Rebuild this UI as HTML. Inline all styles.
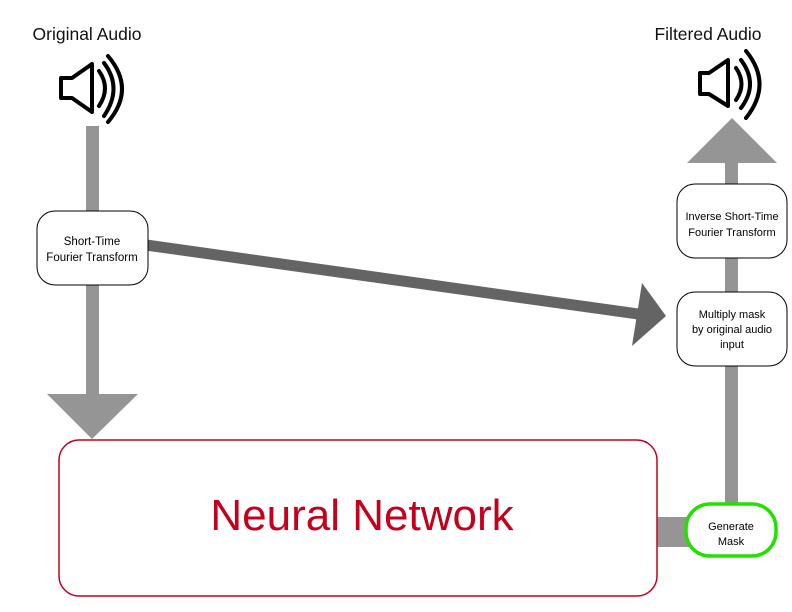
<!DOCTYPE html>
<html><head><meta charset="utf-8"><style>
html,body{margin:0;padding:0;background:#fff;}
svg{display:block;}
text{font-family:"Liberation Sans",sans-serif;}
</style></head><body>
<svg width="792" height="612" viewBox="0 0 792 612" xmlns="http://www.w3.org/2000/svg">
<rect width="792" height="612" fill="#fff"/>
<!-- titles -->
<text x="87" y="40" font-size="17.5" text-anchor="middle" fill="#111">Original Audio</text>
<text x="708" y="40" font-size="17.5" text-anchor="middle" fill="#111">Filtered Audio</text>
<!-- left speaker -->
<g fill="none" stroke="#000" stroke-width="4" stroke-linejoin="round" stroke-linecap="round">
<path d="M61 78 H72 L92 64 V112 L72 98 H61 Z"/>
<path d="M99 71 Q111 88 99 106"/>
<path d="M104 63 Q123 88 104 116"/>
<path d="M108 56 Q136 89 108 122"/>
</g>
<!-- right speaker -->
<g fill="none" stroke="#000" stroke-width="4" stroke-linejoin="round" stroke-linecap="round">
<path d="M700 73 H709 L728 60 V106 L709 94 H700 Z"/>
<path d="M736 68 Q747 84 736 100"/>
<path d="M741 60 Q759 84 741 108"/>
<path d="M746 51 Q773 84 746 118"/>
</g>
<!-- left vertical gray arrow -->
<rect x="86" y="126" width="13" height="270" fill="#959595"/>
<polygon points="47,394 138,394 92,439" fill="#959595"/>
<!-- right vertical gray arrow -->
<rect x="725" y="160" width="13" height="345" fill="#959595"/>
<polygon points="687,163 777,163 732,118" fill="#959595"/>
<!-- connector NN to mask -->
<rect x="655" y="517" width="35" height="30" fill="#959595"/>
<!-- dark arrow -->
<line x1="146" y1="245" x2="638" y2="314" stroke="#646464" stroke-width="11"/>
<polygon points="642,283 666,316 632,346" fill="#646464"/>
<!-- STFT box -->
<rect x="37" y="211" width="111" height="74" rx="18" fill="#fff" stroke="#000" stroke-width="1"/>
<text x="92" y="245" font-size="11.5" text-anchor="middle">Short-Time</text>
<text x="92" y="261" font-size="11.5" text-anchor="middle">Fourier Transform</text>
<!-- Inverse box -->
<rect x="677" y="184" width="110" height="74" rx="18" fill="#fff" stroke="#000" stroke-width="1"/>
<text x="732" y="220" font-size="11" text-anchor="middle">Inverse Short-Time</text>
<text x="732" y="236" font-size="11" text-anchor="middle">Fourier Transform</text>
<!-- Multiply box -->
<rect x="677" y="292" width="110" height="74" rx="18" fill="#fff" stroke="#000" stroke-width="1"/>
<text x="732" y="318" font-size="11" text-anchor="middle">Multiply mask</text>
<text x="732" y="333" font-size="11" text-anchor="middle">by original audio</text>
<text x="732" y="348" font-size="11" text-anchor="middle">input</text>
<!-- Neural network -->
<rect x="59" y="440" width="598" height="156" rx="20" fill="#fff" stroke="#c4001c" stroke-width="1.5"/>
<text x="362" y="530" font-size="44" text-anchor="middle" fill="#c4001c">Neural Network</text>
<!-- Generate mask -->
<rect x="686" y="504" width="90" height="52" rx="24" fill="#fff" stroke="#22e000" stroke-width="3.5"/>
<text x="731" y="530" font-size="11" text-anchor="middle">Generate</text>
<text x="731" y="545" font-size="11" text-anchor="middle">Mask</text>
</svg>
</body></html>
